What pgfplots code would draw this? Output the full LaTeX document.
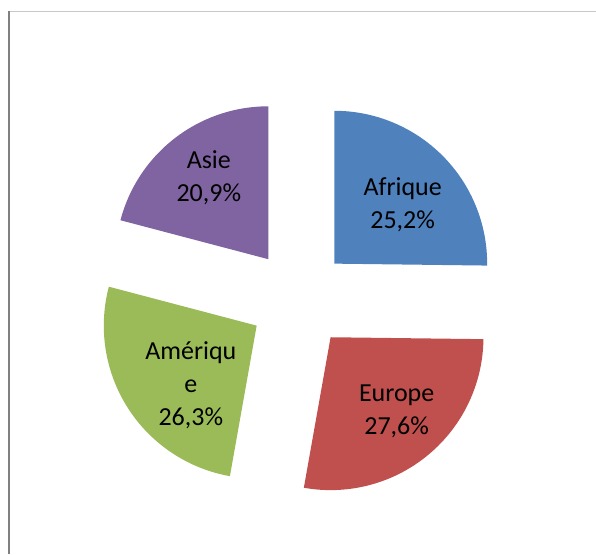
\documentclass[border=0pt]{standalone}
\usepackage{pgfplots}
\pgfplotsset{compat=1.18}
\usepackage{pgfplotstable}
\usepackage{fontspec}
\setmainfont{Carlito}
\definecolor{afr}{HTML}{4F81BD}
\definecolor{eur}{HTML}{C0504D}
\definecolor{ame}{HTML}{9BBB59}
\definecolor{asi}{HTML}{8064A2}
\definecolor{frameA}{HTML}{808080}
\definecolor{frameB}{HTML}{C8C8C8}

\pgfplotstableread{
name value col
Afrique 25.2 afr
Europe 27.6 eur
Amerique 26.3 ame
Asie 20.9 asi
}\piedata

\begin{document}
\begin{tikzpicture}
\begin{axis}[x=1pt,y=1pt,xmin=0,xmax=596,ymin=0,ymax=554,hide axis,clip=false]
\path (axis cs:0,0) rectangle (axis cs:596,554);
\draw[frameB,line width=1pt] (axis cs:10,542) -- (axis cs:596,542);
\draw[frameA,line width=2pt] (axis cs:9,543) -- (axis cs:9,0);
\xdef\cum{0}
\pgfplotsinvokeforeach{0,...,3}{
  \pgfplotstablegetelem{#1}{value}\of\piedata \let\v\pgfplotsretval
  \pgfplotstablegetelem{#1}{col}\of\piedata \let\c\pgfplotsretval
  \pgfmathsetmacro\sa{90-3.6*\cum}
  \pgfmathsetmacro\ea{90-3.6*(\cum+\v)}
  \pgfmathsetmacro\ma{(\sa+\ea)/2}
  \pgfmathsetmacro\ox{299+50*cos(\ma)}
  \pgfmathsetmacro\oy{255+50*sin(\ma)}
  \edef\temp{\noexpand\fill[\c] (axis cs:\ox,\oy) -- ++(\sa:153pt) arc[start angle=\sa, end angle=\ea, radius=153pt] -- cycle;}
  \temp
  \pgfmathparse{\cum+\v}\xdef\cum{\pgfmathresult}
}
\tikzset{lab/.style={align=center,font=\fontsize{26}{33}\selectfont,text=black}}
\node[lab] at (axis cs:403,349) {Afrique\\25,2\%};
\node[lab] at (axis cs:397,142) {Europe\\27,6\%};
\node[lab] at (axis cs:191,168) {Amériqu\\e\\26,3\%};
\node[lab] at (axis cs:209,376) {Asie\\20,9\%};
\end{axis}
\end{tikzpicture}
\end{document}
